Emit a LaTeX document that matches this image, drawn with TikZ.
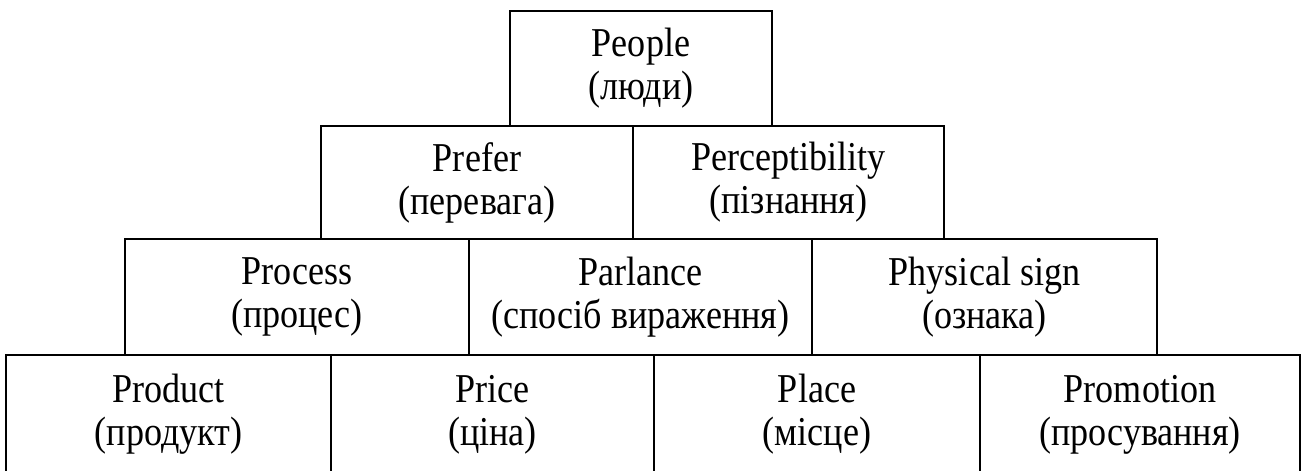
\documentclass[tikz,border=0pt]{standalone}
\usepackage{fontspec}
\setmainfont[FakeStretch=0.88]{Liberation Serif}
\tikzset{
  box/.style={draw=black, line width=2pt, inner sep=0pt, align=center,
    font=\fontsize{41}{43}\selectfont}
}
\begin{document}
\begin{tikzpicture}[x=1pt,y=-1pt]
\clip (0,0) rectangle (1304,471);
\fill[white] (0,0) rectangle (1304,471);
% row 1
\node[box, minimum width=262pt, minimum height=115pt] (people) at (641,68.5) {People\\(люди)};
% row 2
\node[box, minimum width=312pt, minimum height=113pt] (prefer) at (477,182.5) {Prefer\\(перевага)};
\node[box, minimum width=311pt, minimum height=113pt] (percept) at (788.5,182.5) {Perceptibility\\(пізнання)};
% row 3
\node[box, minimum width=344pt, minimum height=116pt] (process) at (297,297) {Process\\(процес)};
\node[box, minimum width=343pt, minimum height=116pt] (parlance) at (640.5,297) {Parlance\\(спосіб вираження)};
\node[box, minimum width=345pt, minimum height=116pt] (physical) at (984.5,297) {Physical sign\\(ознака)};
% row 4
\node[box, minimum width=325pt, minimum height=119pt] (product) at (168.5,414.5) {Product\\(продукт)};
\node[box, minimum width=323pt, minimum height=119pt] (price) at (492.5,414.5) {Price\\(ціна)};
\node[box, minimum width=326pt, minimum height=119pt] (place) at (817,414.5) {Place\\(місце)};
\node[box, minimum width=320pt, minimum height=119pt] (promotion) at (1140,414.5) {Promotion\\(просування)};
\end{tikzpicture}
\end{document}
